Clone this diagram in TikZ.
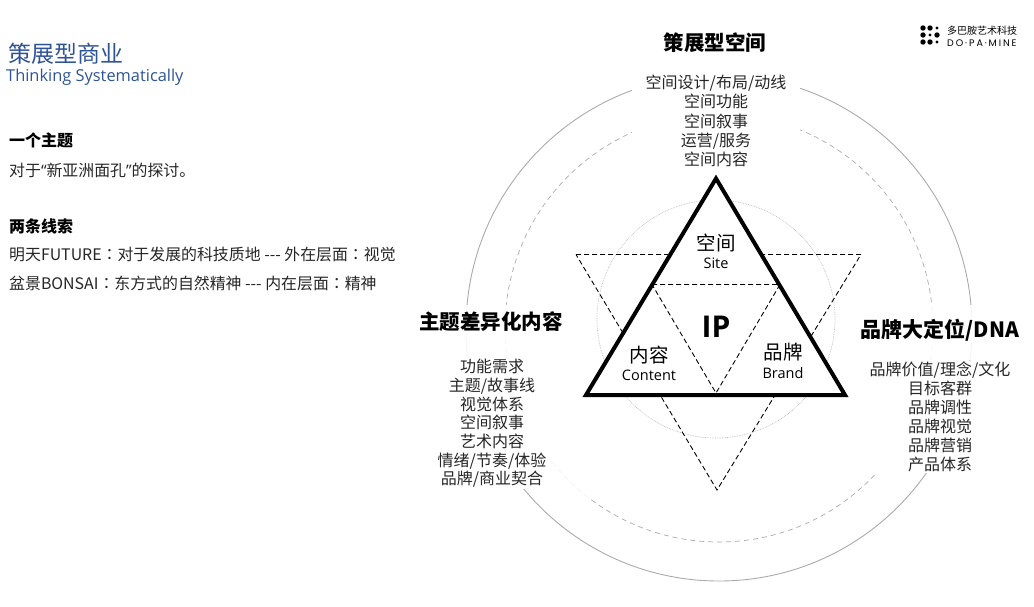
\documentclass[tikz,border=0pt]{standalone}
\usepackage{fontspec}
\setmainfont{Noto Sans CJK SC}[BoldFont={Noto Sans CJK SC Black}]
\newfontfamily\latinfont{Open Sans}
\newfontfamily\logofont{Poppins}[LetterSpace=20]
\newfontfamily\colonfont{Noto Sans CJK TC}
\usepackage{tikz}
\usetikzlibrary{calc}
\definecolor{dptitle}{RGB}{47,84,150}
\definecolor{dpbody}{RGB}{38,38,38}
\definecolor{dpring}{RGB}{170,170,170}
\definecolor{dpdot}{RGB}{185,185,185}
\newcommand{\dpcolon}{{\colonfont ：}}
\newcommand{\dpdash}{-{}-{}-}

\begin{document}
\begin{tikzpicture}[x=1pt, y=-1pt,
  headbox/.style={font=\fontsize{20.5}{24}\selectfont\bfseries, fill=white, inner sep=2pt, anchor=center},
  listbox/.style={font=\fontsize{16}{19}\selectfont, text=dpbody, fill=white, inner sep=1pt, align=center, anchor=north},
  sidehead/.style={font=\fontsize{16}{19}\selectfont\bfseries, anchor=west, inner sep=0pt},
  sideline/.style={font=\fontsize{15.9}{19}\selectfont, text=dpbody, anchor=west, inner sep=0pt},
  cnlabel/.style={inner sep=0pt, font=\fontsize{19.5}{22}\selectfont},
  enlabel/.style={inner sep=0pt, font=\latinfont\fontsize{14.5}{17}\selectfont},
  dashline/.style={black, dash pattern=on 5pt off 3pt, line width=0.9pt},
  ringveil/.style={white, opacity=0.88}]

\useasboundingbox (0,0) rectangle (1034,606);

% rings behind everything
\draw[dpring, line width=0.9pt] (719,328) circle (253);
\draw[dpring, line width=0.7pt, dash pattern=on 5pt off 4pt] (719,328) circle (214);
\draw[dpdot, line width=0.7pt, densely dotted] (716,319) circle (119);
\fill[ringveil] (455,305) rectangle (520,360);
\fill[ringveil] (925,305) rectangle (985,360);
\fill[ringveil] (546,445) rectangle (588,498);

% big dashed triangle, then the solid one on top
\coordinate (d1) at (576,254.5);
\coordinate (d2) at (861,254.5);
\coordinate (d3) at (717,490);
\draw[dashline] (d1) -- (d2) -- (d3) -- cycle;

\coordinate (t1) at (716,178.5);
\coordinate (t2) at (845,395);
\coordinate (t3) at (586,395);
\draw[black, line width=4pt, fill=white, line join=miter] (t1) -- (t2) -- (t3) -- cycle;

\coordinate (i1) at (652,284.5);
\coordinate (i2) at (780,284.5);
\coordinate (i3) at (716,393);
\draw[dashline] (i1) -- (i2) -- (i3) -- cycle;

% labels inside
\node[cnlabel] (site) at (716,243) {空间};
\node[enlabel] (sitee) at (716,263) {Site};
\node[cnlabel] (content) at (649,355) {内容};
\node[enlabel] (contente) at (649,375) {Content};
\node[cnlabel] (brand) at (783,352) {品牌};
\node[enlabel] (brande) at (783,373) {Brand};
\node[inner sep=0pt, font=\latinfont\fontsize{30}{32}\selectfont\bfseries] (ip) at (716,327) {IP};

% three corners
\node[headbox] (hspace) at (715,43) {策展型空间};
\node[listbox, inner xsep=14pt, font=\fontsize{16}{19.2}\selectfont] (lspace) at (716,74) {空间设计/布局/动线\\空间功能\\空间叙事\\运营/服务\\空间内容};
\node[headbox] (hcontent) at (491,322) {主题差异化内容};
\node[listbox, font=\fontsize{16}{18.7}\selectfont] (lcontent) at (492,358) {功能需求\\主题/故事线\\视觉体系\\空间叙事\\艺术内容\\情绪/节奏/体验\\品牌/商业契合};
\node[headbox, font=\fontsize{21}{24}\selectfont\bfseries] (hbrand) at (940,330) {品牌大定位/DNA};
\node[listbox] (lbrand) at (940,361) {品牌价值/理念/文化\\目标客群\\品牌调性\\品牌视觉\\品牌营销\\产品体系};

% left column
\node[anchor=west, inner sep=0pt, text=dptitle, font=\fontsize{23}{26}\selectfont] (title) at (8,54) {策展型商业};
\node[anchor=west, inner sep=0pt, text=dptitle, font=\latinfont\fontsize{16.4}{19}\selectfont] (subtitle) at (6,77) {Thinking Systematically};
\node[sidehead] (theme) at (9,140) {一个主题};
\node[sideline] (themetxt) at (9,170) {对于{\latinfont “}新亚洲面孔{\latinfont ”}的探讨。};
\node[sidehead] (lines) at (9,226) {两条线索};
\node[sideline] (line1) at (9,254) {明天FUTURE\dpcolon 对于发展的科技质地 \dpdash{} 外在层面\dpcolon 视觉};
\node[sideline] (line2) at (9,283) {盆景BONSAI\dpcolon 东方式的自然精神 \dpdash{} 内在层面\dpcolon 精神};

% logo
\foreach \x/\y/\r in {923/28/2.7,930/28/2.7,937/28/1.6,923/35/2.7,930/35/1.6,937/35/2.7,923/42/2.7,930/42/2.7,937/42/1.6}
  \fill (\x,\y) circle (\r);
\node[anchor=west, inner sep=0pt, font=\fontsize{10}{12}\selectfont] (logocn) at (947,31) {多巴胺艺术科技};
\node[anchor=west, inner sep=0pt, font=\logofont\fontsize{9.5}{12}\selectfont] (logoen) at (947,43) {DO·PA·MINE};

\end{tikzpicture}
\end{document}
